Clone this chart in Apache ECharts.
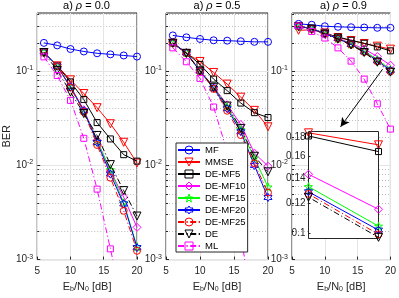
<!DOCTYPE html>
<html><head><meta charset="utf-8">
<script src="https://cdn.jsdelivr.net/npm/echarts@6/dist/echarts.min.js"></script>
<style>html,body{margin:0;padding:0;background:#fff}#c{width:399px;height:298px}</style>
</head><body><div id="c"></div>
<script>
// ---------- data ----------
const snr = [6, 8, 10, 12, 14, 16, 18, 20];
const xTicks = [5, 10, 15, 20];
const yMajor = [0.001, 0.01, 0.1];
const yMinor = [0.002, 0.003, 0.004, 0.005, 0.006, 0.007, 0.008, 0.009,
                0.02, 0.03, 0.04, 0.05, 0.06, 0.07, 0.08, 0.09, 0.2, 0.3, 0.4];
const insetTicks = [0.1, 0.12, 0.14, 0.16, 0.18];
const rhoLabels = ['0.0', '0.5', '0.9'];
const seriesNames = ['MF', 'MMSE', 'DE-MF5', 'DE-MF10', 'DE-MF15', 'DE-MF20', 'DE-MF25', 'DE', 'ML'];

// rho = 0.0
const mf_r0     = [0.200, 0.188, 0.172, 0.162, 0.155, 0.151, 0.147, 0.143];
const mmse_r0   = [0.157, 0.114, 0.081, 0.058, 0.041, 0.0277, 0.0176, 0.0106];
const demf5_r0  = [0.157, 0.114, 0.077, 0.050, 0.0285, 0.0191, 0.0130, 0.0111];
const demf10_r0 = [0.160, 0.113, 0.069, 0.039, 0.0185, 0.0087, 0.0046, 0.0022];
const demf15_r0 = [0.160, 0.113, 0.068, 0.038, 0.0180, 0.0090, 0.0040, 0.00137];
const demf20_r0 = [0.160, 0.113, 0.068, 0.038, 0.0175, 0.0081, 0.0039, 0.00134];
const demf25_r0 = [0.160, 0.113, 0.067, 0.037, 0.0165, 0.0074, 0.0033, 0.00124];
const de_r0     = [0.158, 0.102, 0.060, 0.0355, 0.0208, 0.0102, 0.0054, 0.0029];
const ml_r0     = [0.142, 0.090, 0.049, 0.0194, 0.0056, 0.0013, 0.0003, 0.00005];

// rho = 0.5
const mf_r5     = [0.240, 0.229, 0.220, 0.213, 0.211, 0.208, 0.205, 0.205];
const mmse_r5   = [0.198, 0.154, 0.127, 0.097, 0.073, 0.053, 0.0384, 0.0257];
const demf5_r5  = [0.198, 0.157, 0.118, 0.0825, 0.0622, 0.0459, 0.0363, 0.0322];
const demf10_r5 = [0.200, 0.157, 0.102, 0.068, 0.044, 0.0272, 0.0135, 0.0098];
const demf15_r5 = [0.200, 0.157, 0.101, 0.067, 0.042, 0.024, 0.0120, 0.0059];
const demf20_r5 = [0.200, 0.157, 0.100, 0.066, 0.040, 0.0228, 0.0100, 0.00457];
const demf25_r5 = [0.200, 0.157, 0.100, 0.065, 0.038, 0.021, 0.0105, 0.00515];
const de_r5     = [0.198, 0.155, 0.1007, 0.0675, 0.0427, 0.0247, 0.0125, 0.00855];
const ml_r5     = [0.177, 0.126, 0.0839, 0.0417, 0.0140, 0.0019, 0.0002, 0.00002];

// rho = 0.9
const mf_r9     = [0.318, 0.311, 0.300, 0.296, 0.293, 0.291, 0.289, 0.289];
const mmse_r9   = [0.272, 0.275, 0.255, 0.228, 0.212, 0.197, 0.1845, 0.1715];
const demf5_r9  = [0.300, 0.285, 0.252, 0.231, 0.213, 0.198, 0.181, 0.1646];
const demf10_r9 = [0.300, 0.283, 0.252, 0.225, 0.197, 0.172, 0.1434, 0.1159];
const demf15_r9 = [0.300, 0.283, 0.251, 0.223, 0.194, 0.165, 0.133, 0.1046];
const demf20_r9 = [0.300, 0.282, 0.250, 0.222, 0.192, 0.161, 0.1289, 0.1021];
const demf25_r9 = [0.300, 0.282, 0.250, 0.221, 0.191, 0.160, 0.1272, 0.0995];
const de_r9     = [0.298, 0.280, 0.248, 0.220, 0.190, 0.158, 0.1247, 0.0977];
const ml_r9     = [0.303, 0.264, 0.225, 0.177, 0.128, 0.0824, 0.0451, 0.0243];

const panelData = [
  [mf_r0, mmse_r0, demf5_r0, demf10_r0, demf15_r0, demf20_r0, demf25_r0, de_r0, ml_r0],
  [mf_r5, mmse_r5, demf5_r5, demf10_r5, demf15_r5, demf20_r5, demf25_r5, de_r5, ml_r5],
  [mf_r9, mmse_r9, demf5_r9, demf10_r9, demf15_r9, demf20_r9, demf25_r9, de_r9, ml_r9]
];

// ---------- styles ----------
const FONT = 'Liberation Sans, Arial, Helvetica, sans-serif';
const AX = '#262626';
const triDown = 'path://M-5,-4L5,-4L0,5Z';
const penta = 'path://M0,-10L2.35,-3.24L9.51,-3.09L3.8,1.24L5.88,8.09L0,4L-5.88,8.09L-3.8,1.24L-9.51,-3.09L-2.35,-3.24Z';
const hexa = 'path://M0,-10L2.89,-5L8.66,-5L5.77,0L8.66,5L2.89,5L0,10L-2.89,5L-8.66,5L-5.77,0L-8.66,-5L-2.89,-5Z';
const dashDot = [6, 2.5, 1.2, 2.5];
const HOLLOW = 'rgba(255,255,255,0)';
const styles = [
  {color: '#0000ff', symbol: 'circle', size: 7, type: 'solid'},
  {color: '#ff0000', symbol: triDown, size: 8, type: 'solid'},
  {color: '#000000', symbol: 'rect', size: 6, type: 'solid'},
  {color: '#ff00ff', symbol: 'diamond', size: 8, type: 'solid'},
  {color: '#00ff00', symbol: penta, size: 8, type: 'solid'},
  {color: '#0000ff', symbol: hexa, size: 8, type: 'solid'},
  {color: '#ff0000', symbol: 'circle', size: 7, type: dashDot},
  {color: '#000000', symbol: triDown, size: 8, type: dashDot},
  {color: '#ff00ff', symbol: 'rect', size: 6, type: dashDot}
];

const grids = [
  {left: 36, top: 13, width: 101, height: 250},
  {left: 166, top: 13, width: 102, height: 250},
  {left: 292, top: 13, width: 103, height: 250}
];

const option = {
  animation: false,
  textStyle: {fontFamily: FONT},
  title: grids.map((g, p) => ({
    text: 'a) {i|ρ} = ' + rhoLabels[p],
    left: g.left + g.width / 2, top: 0, textAlign: 'center', padding: 0,
    textStyle: {fontSize: 11, fontWeight: 'normal', color: '#000', fontFamily: FONT,
      rich: {i: {fontStyle: 'italic', fontSize: 11, fontFamily: FONT}}}
  })),
  grid: grids.map(g => Object.assign({show: true, borderColor: AX, borderWidth: 1, backgroundColor: 'transparent', containLabel: false}, g))
    .concat([{left: 308.5, top: 131.5, width: 70, height: 107, show: true, backgroundColor: '#fff',
      borderColor: AX, borderWidth: 1, zlevel: 1}]),
  xAxis: grids.map((g, p) => ({
    type: 'value', gridIndex: p, min: 5, max: 20, interval: 5,
    axisLine: {show: false},
    axisTick: {inside: true, length: 3, lineStyle: {color: AX}},
    axisLabel: {fontSize: 10, color: AX, margin: 7, fontFamily: FONT},
    splitLine: {show: true, lineStyle: {color: '#e4e4e4', width: 1}},
    name: 'E{sub|b}/N{sub|0} [dB]', nameLocation: 'middle', nameGap: 17,
    nameTextStyle: {fontSize: 11, color: AX, fontFamily: FONT,
      rich: {sub: {fontSize: 7, verticalAlign: 'bottom', padding: [5, 0, 0, 0], fontFamily: FONT}}}
  })).concat([{
    type: 'value', gridIndex: 3, min: 18, max: 20, zlevel: 1,
    axisLine: {show: false}, axisTick: {show: false}, axisLabel: {show: false}, splitLine: {show: false}
  }]),
  yAxis: grids.map((g, p) => ({
    type: 'log', gridIndex: p, min: 0.001, max: 0.415,
    axisLine: {show: false},
    axisTick: {inside: true, length: 3, customValues: yMajor, lineStyle: {color: AX}},
    axisLabel: {customValues: yMajor, color: AX, fontSize: 10, margin: 4, fontFamily: FONT,
      formatter: v => '10{sup|' + Math.round(Math.log10(v)) + '}',
      rich: {sup: {fontSize: 7, verticalAlign: 'top', padding: [0, 0, 6, 0], fontFamily: FONT}}},
    splitLine: {show: true, lineStyle: {color: '#e4e4e4', width: 1}},
    name: p === 0 ? 'BER' : '', nameLocation: 'middle', nameGap: 23,
    nameTextStyle: {fontSize: 11, color: AX, fontFamily: FONT}
  })).concat(grids.map((g, p) => ({
    type: 'log', gridIndex: p, min: 0.001, max: 0.415, position: 'left',
    axisLine: {show: false},
    axisTick: {inside: true, length: 2, customValues: yMinor, lineStyle: {color: AX}},
    axisLabel: {show: false},
    splitLine: {show: true, lineStyle: {color: '#bdbdbd', width: 1, type: [1, 2]}}
  }))).concat([{
    type: 'log', gridIndex: 3, min: 0.097, max: 0.186, zlevel: 1,
    axisLine: {show: false},
    axisTick: {inside: true, length: 2, customValues: insetTicks, lineStyle: {color: AX}},
    axisLabel: {customValues: insetTicks, color: AX, fontSize: 10, margin: 3, fontFamily: FONT,
      formatter: v => String(+(+v).toFixed(2))},
    splitLine: {show: false}
  }]),
  legend: {
    data: seriesNames.map((n, k) => ({name: n,
      itemStyle: {color: HOLLOW, borderColor: styles[k].color, borderWidth: 1}})),
    orient: 'vertical', left: 176, top: 143,
    itemWidth: 22, itemHeight: 10, itemGap: 0, itemTextGap: 3,
    itemStyle: {color: HOLLOW, borderWidth: 1},
    padding: [1, 2, 0, 1], backgroundColor: '#fff', borderColor: AX, borderWidth: 1,
    borderRadius: 0, selectedMode: false,
    textStyle: {fontSize: 9.5, color: '#000', lineHeight: 12, fontFamily: FONT}
  },
  series: []
};

function mkSeries(p, k, xi, yi, zl) {
  const st = styles[k];
  return {
    type: 'line', name: seriesNames[k], xAxisIndex: xi, yAxisIndex: yi,
    zlevel: zl, z: 2 + k * 0.01,
    data: snr.map((x, i) => [x, panelData[p][k][i]]),
    symbol: st.symbol, symbolSize: st.size, showAllSymbol: true, clip: true,
    lineStyle: {color: st.color, width: 1, type: st.type},
    itemStyle: {color: HOLLOW, borderColor: st.color, borderWidth: 1},
    emphasis: {disabled: true}, silent: true
  };
}
for (let p = 0; p < 3; p++) {
  for (let k = 0; k < seriesNames.length; k++) {
    option.series.push(mkSeries(p, k, p, p, 0));
  }
}
// arrow annotation in panel 3
option.series[option.series.length - 2].markLine = {
  silent: true, symbol: ['none', 'arrow'], symbolSize: [7, 9],
  label: {show: false},
  lineStyle: {color: '#000', width: 1, type: 'solid'},
  data: [[{coord: [18.8, 0.105]}, {coord: [12.4, 0.0257]}]]
};
// inset series (panel 3, zoom on 18-20 dB)
for (let k = 1; k <= 7; k++) {
  option.series.push(mkSeries(2, k, 3, 6, 1));
}

const chart = echarts.init(document.getElementById('c'), null, {renderer: 'canvas'});
chart.setOption(option);
</script></body></html>
